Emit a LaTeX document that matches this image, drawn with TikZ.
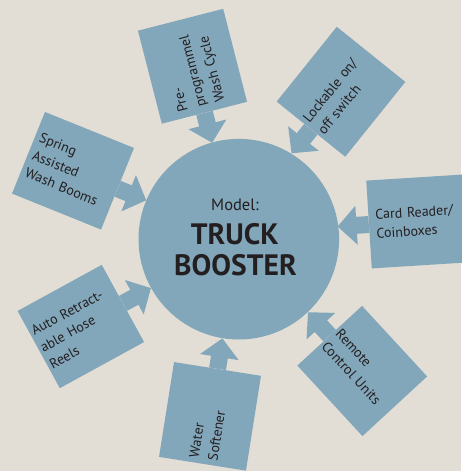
\documentclass[tikz,border=0pt]{standalone}
\usepackage{fontspec}
\setmainfont{PT Sans}
\usetikzlibrary{arrows.meta}
\definecolor{bg}{HTML}{E3DED5}
\definecolor{boxc}{HTML}{82A6BA}
\definecolor{ink}{HTML}{231F20}
\begin{document}
\begin{tikzpicture}[x=1pt,y=1pt,
  box/.style={fill=boxc, draw=none, minimum width=96pt, minimum height=88pt,
    inner ysep=0pt, align=left, text=ink,
    font=\fontsize{14}{19}\selectfont, transform shape},
  arr/.style={draw=boxc, line width=17pt, -{Triangle[width=38pt,length=19pt]}},
  hubtext/.style={text=ink, anchor=base, inner sep=0pt}
]
\fill[bg] (0,0) rectangle (461,-471);
\useasboundingbox (0,0) rectangle (461,-471);

\node[circle, fill=boxc, minimum size=200.6pt, inner sep=0pt] (hub) at (238.8,-239.2) {};
\node[hubtext, font=\fontsize{16.5}{20}\selectfont] (model) at (235,-210.7) {Model:};
\node[hubtext, font=\fontsize{29.5}{30}\selectfont\bfseries] (truck) at (234.7,-244.3) {TRUCK};
\node[hubtext, font=\fontsize{29.5}{30}\selectfont\bfseries] (booster) at (235.5,-275) {BOOSTER};

% Pre-programmel
\begin{scope}[shift={(192.5,-66.25)}, rotate=104.4]
  \node[box, inner xsep=6.5pt, text width=83pt] (pre) at (0,0) {Pre-\\programmel\\Wash Cycle};
  \coordinate (pret) at (-79,0);
\end{scope}
% Lockable
\begin{scope}[shift={(341,-91.75)}, rotate=51.2]
  \node[box, inner xsep=3.5pt, text width=89pt] (lock) at (0,0) {Lockable on/\\off switch};
  \coordinate (lockt) at (-79,0);
\end{scope}
% Card reader
\begin{scope}[shift={(416.9,-221.5)}, rotate=3.6]
  \node[box, inner xsep=7pt, text width=82pt] (card) at (0,0) {Card Reader/\\Coinboxes};
  \coordinate (cardt) at (-79.5,0);
\end{scope}
% Remote
\begin{scope}[shift={(362.25,-371)}, rotate=-47.3]
  \node[box, inner xsep=2.5pt, text width=91pt] (remote) at (0,0) {Remote\\Control Units};
  \coordinate (remotet) at (-80,0);
\end{scope}
% Water softener
\begin{scope}[shift={(210,-416.35)}, rotate=81]
  \node[box, inner xsep=5pt, text width=86pt] (water) at (0,0) {Water\\Softener};
  \coordinate (watert) at (79,0);
\end{scope}
% Auto retractable
\begin{scope}[shift={(80.8,-326.5)}, rotate=28.7]
  \node[box, inner xsep=3pt, text width=90pt] (auto) at (0,0) {Auto Retract-\\able Hose\\Reels};
  \coordinate (autot) at (80,0);
\end{scope}
% Spring assisted
\begin{scope}[shift={(73,-170.75)}, rotate=-22]
  \node[box, inner xsep=5pt, text width=86pt] (spring) at (0,0) {Spring\\Assisted\\Wash Booms};
  \coordinate (springt) at (79,0);
\end{scope}

\draw[arr] (pre.west) -- (pret);
\draw[arr] (lock.west) -- (lockt);
\draw[arr] (card.west) -- (cardt);
\draw[arr] (remote.west) -- (remotet);
\draw[arr] (water.east) -- (watert);
\draw[arr] (auto.east) -- (autot);
\draw[arr] (spring.east) -- (springt);
\end{tikzpicture}
\end{document}
